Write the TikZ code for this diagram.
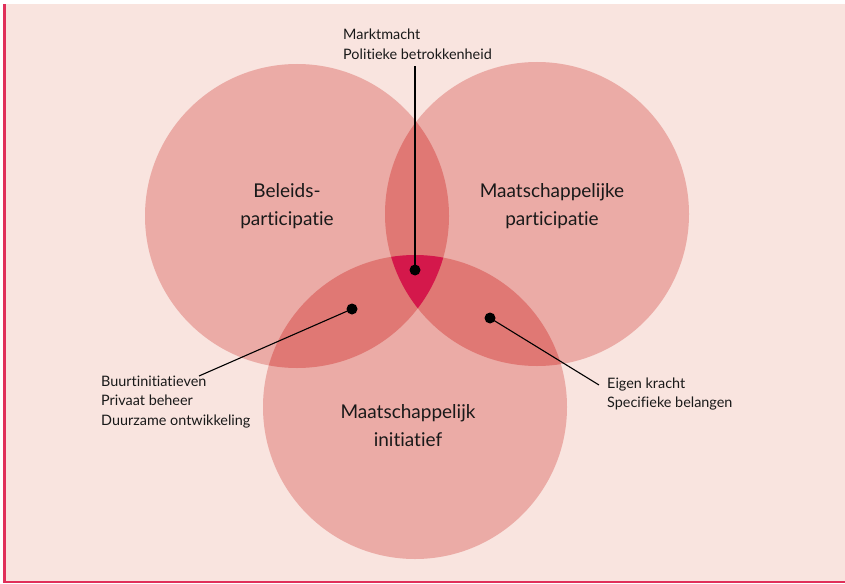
\documentclass[tikz,border=0pt]{standalone}
\usepackage{fontspec}
\setmainfont{Lato}[Ligatures={NoCommon}]
\definecolor{bgpink}{HTML}{F9E4DF}
\definecolor{circ}{HTML}{EBABA6}
\definecolor{lens}{HTML}{E07874}
\definecolor{core}{HTML}{D4184B}
\definecolor{frame}{HTML}{E0305A}
\begin{document}
\begin{tikzpicture}[x=1pt,y=-1pt,
  lbl/.style={font=\fontsize{14.4}{19.6}\selectfont, align=left, anchor=north west, inner sep=0pt, text=black!90},
  big/.style={font=\fontsize{19}{28}\selectfont, align=center, inner sep=0pt, text=black!90},
  dot/.style={circle, fill=black, inner sep=0pt, minimum size=11pt},
  conn/.style={draw=black, line width=1.1pt}]
\useasboundingbox (0,0) rectangle (845,583);
\fill[white] (0,0) rectangle (845,583);
\fill[bgpink] (6,4) rectangle (845,581);
\fill[frame] (3,4) rectangle (6,583);
\fill[frame] (3,580.5) rectangle (845,583);
% circles
\def\cA{(297,216) circle[radius=152]}
\def\cB{(537,214) circle[radius=152]}
\def\cC{(415,407) circle[radius=152]}
\fill[circ] \cA; \fill[circ] \cB; \fill[circ] \cC;
\begin{scope}\clip \cA; \fill[lens] \cB; \fill[lens] \cC; \end{scope}
\begin{scope}\clip \cB; \fill[lens] \cC; \end{scope}
\begin{scope}\clip \cA; \clip \cB; \fill[core] \cC; \end{scope}
% main labels
\node[big] (bel) at (287,206) {Beleids-\\participatie};
\node[big] (maat) at (552,206) {Maatschappelijke\\participatie};
\node[big] (init) at (408,426) {Maatschappelijk\\initiatief};
% side labels
\node[lbl] (top) at (343,29) {Marktmacht\\Politieke betrokkenheid};
\node[lbl] (left) at (101,375.5) {Buurtinitiatieven\\Privaat beheer\\Duurzame ontwikkeling};
\node[lbl] (right) at (607,377.5) {Eigen kracht\\Specifieke belangen};
% dots
\node[dot] (d1) at (415,270) {};
\node[dot] (d2) at (352,309) {};
\node[dot] (d3) at (490,318) {};
\coordinate (e1) at (415,66);
\coordinate (e2) at (199,376);
\coordinate (e3) at (599,385);
\draw[conn] (d1.center) -- (e1);
\draw[conn] (d2.center) -- (e2);
\draw[conn] (d3.center) -- (e3);
\end{tikzpicture}
\end{document}
